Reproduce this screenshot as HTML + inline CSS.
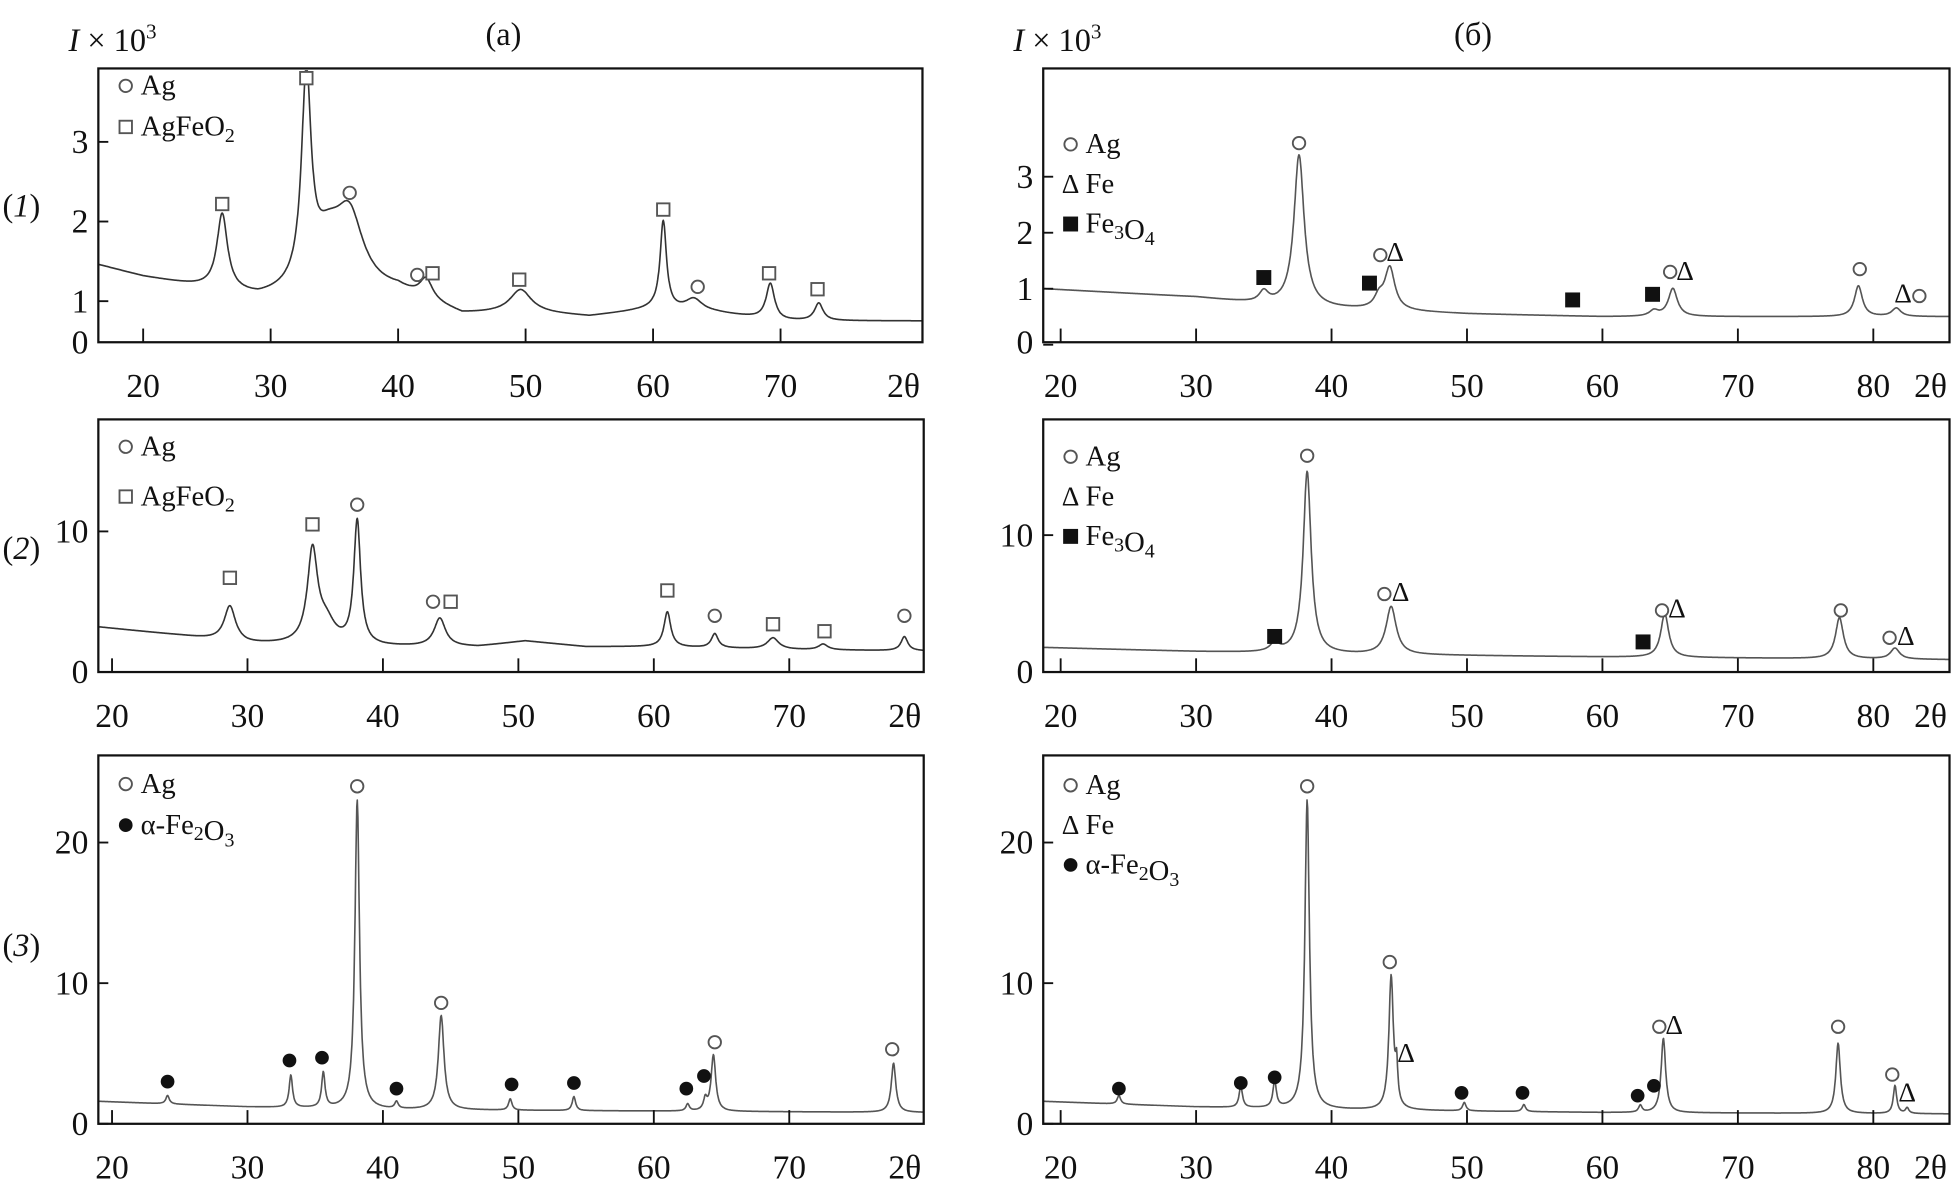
<!DOCTYPE html>
<html><head><meta charset="utf-8"><style>
html,body{margin:0;padding:0;background:#fff}
svg{display:block}
text{font-family:"Liberation Serif",serif;fill:#111}
</style></head><body>
<svg id="fig" xmlns="http://www.w3.org/2000/svg" width="1952" height="1191" viewBox="0 0 1568 957" preserveAspectRatio="none">
<text x="55" y="41" font-size="26"><tspan font-style="italic">I</tspan> × 10<tspan dy="-10" font-size="17">3</tspan></text>
<text x="390" y="36" font-size="26">(a)</text>
<text x="814" y="41" font-size="26"><tspan font-style="italic">I</tspan> × 10<tspan dy="-10" font-size="17">3</tspan></text>
<text x="1168" y="36" font-size="26">(б)</text>
<text x="2" y="174" font-size="26">(<tspan font-style="italic">1</tspan>)</text>
<text x="2" y="449" font-size="26">(<tspan font-style="italic">2</tspan>)</text>
<text x="2" y="768" font-size="26">(<tspan font-style="italic">3</tspan>)</text>
</svg>
<script>
// ---- data arrays (degrees 2θ, intensity ×10^3) ----
const bgA1X=[16.5,20,25,29,32,40,45,50,55,60,65,70,81];
const bgA1Y=[1.45,1.3,1.15,1.02,1.05,1.1,0.82,0.85,0.8,0.9,0.85,0.75,0.75];
const pkA1C=[26.2,32.8,34.5,36.2,42.2,49.6,60.8,63.2,69.2,73.0];
const pkA1H=[0.95,2.55,0.6,0.85,0.25,0.28,1.1,0.15,0.45,0.22];
const pkA1W=[0.5,0.45,1.5,1.3,0.6,1.0,0.3,0.8,0.4,0.4];
const mkA1X=[26.2,32.8,36.2,41.5,42.7,49.5,60.8,63.5,69.1,72.9];
const mkA1Y=[2.22,3.8,2.36,1.33,1.35,1.27,2.15,1.18,1.35,1.15];
const mkA1T=["sq","sq","ci","ci","sq","sq","sq","ci","sq","sq"];

const bgA2X=[19,25,30,40,47,50.5,55,60,70,80];
const bgA2Y=[3.2,2.6,2.0,1.8,1.8,2.2,1.8,1.8,1.6,1.5];
const pkA2C=[28.7,34.8,35.8,38.1,44.2,61.0,64.5,68.8,72.5,78.5];
const pkA2H=[2.5,6.5,1.5,8.8,2.0,2.5,1.0,0.8,0.4,1.0];
const pkA2W=[0.5,0.45,0.8,0.3,0.5,0.3,0.3,0.5,0.4,0.3];
const mkA2X=[28.7,34.8,38.1,43.7,45.0,61.0,64.5,68.8,72.6,78.5];
const mkA2Y=[6.7,10.5,11.9,5.0,5.0,5.8,4.0,3.4,2.9,4.0];
const mkA2T=["sq","sq","ci","ci","sq","sq","ci","sq","sq","ci"];

const bgA3X=[19,30,40,60,80];
const bgA3Y=[1.6,1.2,1.0,0.9,0.8];
const pkA3C=[24.1,33.2,35.6,38.1,41.0,44.3,49.4,54.1,62.5,63.8,64.4,77.7];
const pkA3H=[0.6,2.3,2.5,22,0.5,6.7,0.8,1.0,0.5,0.8,4.0,3.5];
const pkA3W=[0.15,0.15,0.15,0.2,0.15,0.25,0.15,0.15,0.15,0.15,0.2,0.2];
const mkA3X=[24.1,33.1,35.5,38.1,41.0,44.3,49.5,54.1,62.4,63.7,64.5,77.6];
const mkA3Y=[3.0,4.5,4.7,24,2.5,8.6,2.8,2.9,2.5,3.4,5.8,5.3];
const mkA3T=["dot","dot","dot","ci","dot","ci","dot","dot","dot","dot","ci","ci"];

const bgB1X=[18.7,30,35,40,50,60,70,86];
const bgB1Y=[1.0,0.85,0.72,0.65,0.55,0.5,0.5,0.5];
const pkB1C=[35.0,37.6,43.5,44.3,63.8,65.2,78.9,81.7];
const pkB1H=[0.2,2.7,0.2,0.75,0.1,0.5,0.55,0.15];
const pkB1W=[0.4,0.45,0.4,0.45,0.4,0.4,0.35,0.4];
const mkB1X=[35.0,37.6,42.8,43.6,44.7,57.8,63.7,65.0,66.1,79.0,82.2,83.4];
const mkB1Y=[1.2,3.6,1.1,1.6,1.67,0.8,0.9,1.3,1.33,1.35,0.93,0.87];
const mkB1T=["fsq","ci","fsq","ci","tri","fsq","fsq","ci","tri","ci","tri","ci"];

const bgB2X=[18.7,30,40,60,86];
const bgB2Y=[1.8,1.5,1.3,1.1,0.9];
const pkB2C=[35.8,38.2,44.4,64.6,77.5,81.6];
const pkB2H=[0.6,13.3,3.5,3.2,3.0,0.8];
const pkB2W=[0.4,0.35,0.45,0.35,0.35,0.4];
const mkB2X=[35.8,38.2,43.9,45.1,63.0,64.4,65.5,77.6,81.2,82.4];
const mkB2Y=[2.6,15.8,5.7,5.9,2.2,4.5,4.7,4.5,2.5,2.7];
const mkB2T=["fsq","ci","ci","tri","fsq","ci","tri","ci","ci","tri"];

const bgB3X=[18.7,30,40,60,86];
const bgB3Y=[1.6,1.2,1.0,0.8,0.7];
const pkB3C=[24.3,33.3,35.8,38.2,44.4,44.8,49.8,54.2,62.8,64.5,77.4,81.6,82.5];
const pkB3H=[0.6,1.5,1.9,22,9.5,2.5,0.6,0.5,0.5,5.3,5.0,2.0,0.4];
const pkB3W=[0.15,0.15,0.15,0.2,0.2,0.1,0.15,0.15,0.15,0.2,0.2,0.15,0.15];
const mkB3X=[24.3,33.3,35.8,38.2,44.3,45.5,49.6,54.1,62.6,63.8,64.2,65.3,77.4,81.4,82.5];
const mkB3Y=[2.5,2.9,3.3,24,11.5,5.1,2.2,2.2,2.0,2.7,6.9,7.1,6.9,3.5,2.3];
const mkB3T=["dot","dot","dot","ci","ci","tri","dot","dot","dot","dot","ci","tri","ci","ci","tri"];

const xTicksA=[20,30,40,50,60,70];
const xTicksB=[20,30,40,50,60,70,80];

const NS="http://www.w3.org/2000/svg";
const svg=document.getElementById('fig');
function mk(tag,attrs,parent){const e=document.createElementNS(NS,tag);for(const k in attrs)e.setAttribute(k,attrs[k]);(parent||svg).appendChild(e);return e;}
function interp(xs,ys,x){if(x<=xs[0])return ys[0];for(let i=1;i<xs.length;i++){if(x<=xs[i]){const t=(x-xs[i-1])/(xs[i]-xs[i-1]);return ys[i-1]+t*(ys[i]-ys[i-1]);}}return ys[ys.length-1];}

function panel(p){
  const g=mk('g',{});
  
  
  const sx=d=>p.x0+(d-p.d0)*p.kx;
  const sy=v=>p.y0-v*p.ky;
  const xmin=p.d0+(p.L-p.x0)/p.kx, xmax=p.d0+(p.R-p.x0)/p.kx;
  // curve
  let pts=[];
  for(let d=xmin;d<=xmax;d+=0.04){
    let v=interp(p.bgX,p.bgY,d);
    for(let i=0;i<p.pkC.length;i++){const u=(d-p.pkC[i])/p.pkW[i];v+=p.pkH[i]/(1+u*u);}
    let y=Math.max(p.T+2,Math.min(p.B-1,sy(v)));
    pts.push(sx(d).toFixed(1)+','+y.toFixed(1));
  }
  const pl=mk('polyline',{points:pts.join(' '),fill:'none',stroke:p.col,'stroke-width':1.3,'stroke-linejoin':'round'},g);
  
  
  // frame
  const fr=mk('rect',{x:p.L,y:p.T,width:p.R-p.L,height:p.B-p.T,fill:'none',stroke:'#111','stroke-width':1.8},g);
  
  
  // x ticks
  p.xt.forEach(t=>{
    const x=sx(t);
    const tk=mk('line',{x1:x,x2:x,y1:p.B,y2:p.B-11,stroke:'#111','stroke-width':1.5},g);
    
    
    const tl=mk('text',{x:x,y:p.B+44,'font-size':27,'text-anchor':'middle'},g);
    tl.textContent=t;
    
    
  });
  const th=mk('text',{x:p.R-2,y:p.B+44,'font-size':27,'text-anchor':'end'},g);
  th.textContent='2θ';
  
  
  // y ticks
  p.yt.forEach(t=>{
    const y=sy(t);
    if(t!==0||p.zeroTick){
      const tk=mk('line',{x1:p.L,x2:p.L+8,y1:y,y2:y,stroke:'#111','stroke-width':1.5},g);
      
      
    }
    const yy=(t===0)?p.B+9:y+9;
    const tl=mk('text',{x:p.L-8,y:yy,'font-size':27,'text-anchor':'end'},g);
    tl.textContent=t;
    
    
  });
  // markers
  for(let i=0;i<p.mX.length;i++){
    const x=sx(p.mX[i]),y=sy(p.mY[i]),t=p.mT[i];
    let m;
    if(t==='ci')m=mk('circle',{cx:x,cy:y,r:5,fill:'#fff',stroke:'#555','stroke-width':1.5},g);
    else if(t==='dot')m=mk('circle',{cx:x,cy:y,r:5.5,fill:'#111'},g);
    else if(t==='sq')m=mk('rect',{x:x-5,y:y-5,width:10,height:10,fill:'#fff',stroke:'#555','stroke-width':1.5},g);
    else if(t==='fsq')m=mk('rect',{x:x-6,y:y-6,width:12,height:12,fill:'#111'},g);
    else {m=mk('text',{x:x,y:y+8,'font-size':22,'text-anchor':'middle',fill:'#444'},g);m.textContent='Δ';}
    
    
  }
  // legend
  p.leg.forEach((l,i)=>{
    const y=p.legY+i*p.legDy;
    const lx=p.L+22;
    let m;
    if(l[0]==='ci')m=mk('circle',{cx:lx,cy:y-7,r:5,fill:'#fff',stroke:'#555','stroke-width':1.5},g);
    else if(l[0]==='dot')m=mk('circle',{cx:lx,cy:y-7,r:5.5,fill:'#111'},g);
    else if(l[0]==='sq')m=mk('rect',{x:lx-5,y:y-12,width:10,height:10,fill:'#fff',stroke:'#555','stroke-width':1.5},g);
    else if(l[0]==='fsq')m=mk('rect',{x:lx-6,y:y-13,width:12,height:12,fill:'#111'},g);
    else {m=mk('text',{x:lx,y:y,'font-size':22,'text-anchor':'middle',fill:'#444'},g);m.textContent='Δ';}
    
    
    const tx=mk('text',{x:lx+12,y:y,'font-size':23},g);
    tx.innerHTML=l[1];
    
    
  });
}
const sub=s=>'<tspan dy="5" font-size="16">'+s+'</tspan><tspan dy="-5"></tspan>';
const LG={ag:['ci','Ag'],agfe:['sq','AgFeO'+sub('2')],fe:['tri','Fe'],fe3o4:['fsq','Fe'+sub('3')+'O'+sub('4')],hem:['dot','α-Fe'+sub('2')+'O'+sub('3')]};

panel({name:'panel-a1',L:79,R:741,T:55,B:275,x0:115,d0:20,kx:10.24,y0:306,ky:64,yt:[0,1,2,3],zeroTick:false,xt:xTicksA,col:'#333',
  bgX:bgA1X,bgY:bgA1Y,pkC:pkA1C,pkH:pkA1H,pkW:pkA1W,mX:mkA1X,mY:mkA1Y,mT:mkA1T,leg:[LG.ag,LG.agfe],legY:76,legDy:33});
panel({name:'panel-a2',L:79,R:742,T:337,B:540,x0:90,d0:20,kx:10.88,y0:540,ky:11.3,yt:[0,10],zeroTick:true,xt:xTicksA,col:'#333',
  bgX:bgA2X,bgY:bgA2Y,pkC:pkA2C,pkH:pkA2H,pkW:pkA2W,mX:mkA2X,mY:mkA2Y,mT:mkA2T,leg:[LG.ag,LG.agfe],legY:366,legDy:40});
panel({name:'panel-a3',L:79,R:742,T:607,B:903,x0:90,d0:20,kx:10.88,y0:903,ky:11.3,yt:[0,10,20],zeroTick:true,xt:xTicksA,col:'#555',
  bgX:bgA3X,bgY:bgA3Y,pkC:pkA3C,pkH:pkA3H,pkW:pkA3W,mX:mkA3X,mY:mkA3Y,mT:mkA3T,leg:[LG.ag,LG.hem],legY:637,legDy:33});
panel({name:'panel-b1',L:838,R:1566,T:55,B:275,x0:852,d0:20,kx:10.88,y0:277,ky:45,yt:[0,1,2,3],zeroTick:true,xt:xTicksB,col:'#555',
  bgX:bgB1X,bgY:bgB1Y,pkC:pkB1C,pkH:pkB1H,pkW:pkB1W,mX:mkB1X,mY:mkB1Y,mT:mkB1T,leg:[LG.ag,LG.fe,LG.fe3o4],legY:123,legDy:32});
panel({name:'panel-b2',L:838,R:1566,T:337,B:540,x0:852,d0:20,kx:10.88,y0:540,ky:11,yt:[0,10],zeroTick:true,xt:xTicksB,col:'#555',
  bgX:bgB2X,bgY:bgB2Y,pkC:pkB2C,pkH:pkB2H,pkW:pkB2W,mX:mkB2X,mY:mkB2Y,mT:mkB2T,leg:[LG.ag,LG.fe,LG.fe3o4],legY:374,legDy:32});
panel({name:'panel-b3',L:838,R:1566,T:607,B:903,x0:852,d0:20,kx:10.88,y0:903,ky:11.3,yt:[0,10,20],zeroTick:true,xt:xTicksB,col:'#555',
  bgX:bgB3X,bgY:bgB3Y,pkC:pkB3C,pkH:pkB3H,pkW:pkB3W,mX:mkB3X,mY:mkB3Y,mT:mkB3T,leg:[LG.ag,LG.fe,LG.hem],legY:638,legDy:32});
</script>
</body></html>
